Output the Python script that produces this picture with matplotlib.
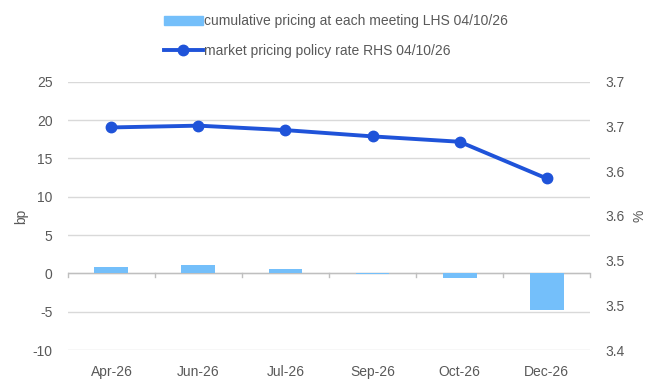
import matplotlib.pyplot as plt
import matplotlib.patches as mpatches
import matplotlib.lines as mlines
import numpy as np

plt.rcParams['font.family'] = ['Liberation Sans', 'DejaVu Sans']
plt.rcParams['axes.unicode_minus'] = False

months = ['Apr-26', 'Jun-26', 'Jul-26', 'Sep-26', 'Oct-26', 'Dec-26']
cum_pricing_bp = [0.9, 1.1, 0.6, -0.05, -0.6, -4.8]
policy_rate = [3.649, 3.651, 3.646, 3.639, 3.633, 3.592]
left_ticks = [-10, -5, 0, 5, 10, 15, 20, 25]
right_ticks = [3.40, 3.45, 3.50, 3.55, 3.60, 3.65, 3.70]
right_tick_labels = ['3.4', '3.5', '3.5', '3.6', '3.6', '3.7', '3.7']

bar_col = '#74BFFA'
line_col = '#1F53D9'
txt_col = '#595959'
grid_col = '#D9D9D9'

fig = plt.figure(figsize=(6.47, 3.86), dpi=100)
ax = fig.add_axes([0.105, 0.093, 0.807, 0.695])
x = np.arange(len(months))

ax.set_axisbelow(True)
ax.bar(x, cum_pricing_bp, width=0.39, color=bar_col, zorder=2)
ax.set_xlim(-0.5, len(months) - 0.5)
ax.set_ylim(-10, 25)
ax.set_yticks(left_ticks)
ax.yaxis.grid(True, color=grid_col, lw=1)
ax.axhline(0, color='#BFBFBF', lw=1, zorder=1)
# small category boundary ticks on the zero line
for b in np.arange(-0.5, len(months), 1):
    ax.plot([b, b], [0, -0.45], color='#BFBFBF', lw=1, zorder=1, clip_on=False)
ax.set_xticks(x)
ax.set_xticklabels(months)
ax.tick_params(axis='both', length=0, colors=txt_col, labelsize=10)
ax.tick_params(axis='x', pad=11)
ax.tick_params(axis='y', pad=11)
for s in ax.spines.values():
    s.set_visible(False)
ax.set_ylabel('bp', color=txt_col, fontsize=10, labelpad=3)

ax2 = ax.twinx()
ax2.plot(x, policy_rate, color=line_col, lw=2.8, marker='o', ms=7.5, zorder=3)
ax2.set_ylim(3.40, 3.70)
ax2.set_yticks(right_ticks)
ax2.set_yticklabels(right_tick_labels)
ax2.tick_params(axis='y', length=0, colors=txt_col, labelsize=10, pad=11)
for s in ax2.spines.values():
    s.set_visible(False)
ax2.set_ylabel('%', color=txt_col, fontsize=10, labelpad=6)

h1 = mpatches.Patch(color=bar_col, label='cumulative pricing at each meeting LHS 04/10/26')
h2 = mlines.Line2D([], [], color=line_col, lw=2.8, marker='o', ms=7.5,
                   label='market pricing policy rate RHS 04/10/26')
leg = fig.legend(handles=[h1, h2], loc='upper left', bbox_to_anchor=(0.234, 0.995),
                 frameon=False, fontsize=10, handlelength=2.8, handletextpad=0.1,
                 labelspacing=1.1)
for t in leg.get_texts():
    t.set_color(txt_col)

fig.savefig('out.png', dpi=100)
